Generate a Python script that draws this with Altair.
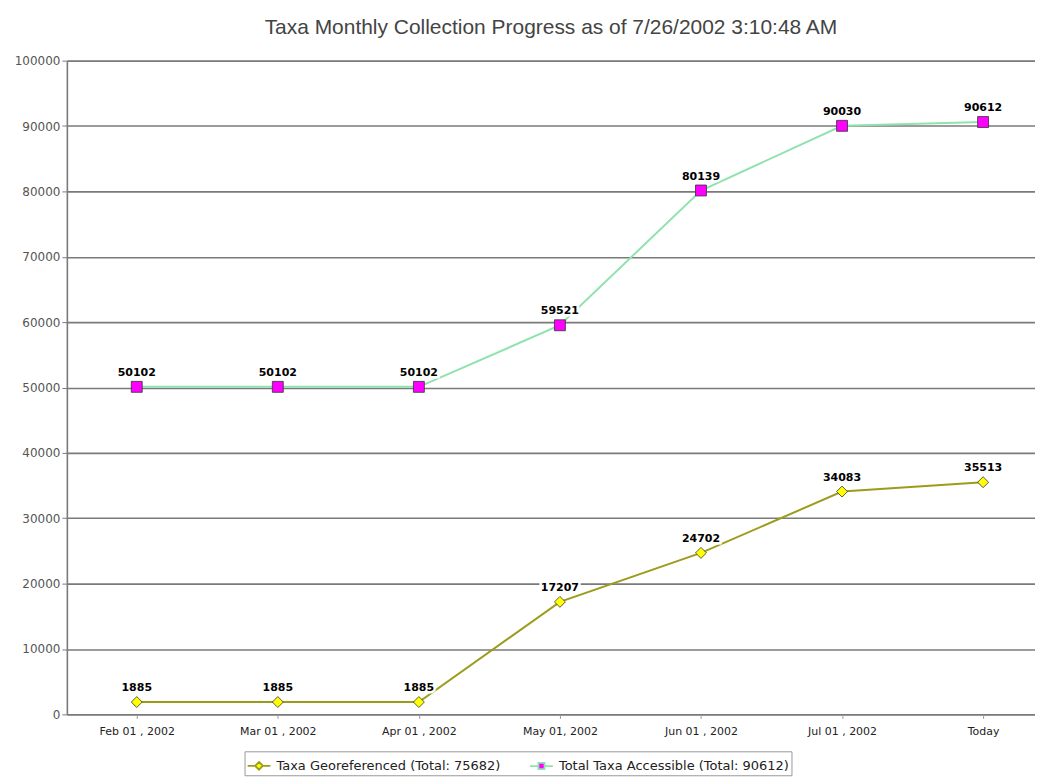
import altair as alt
import pandas as pd

categories = ["Feb 01 , 2002", "Mar 01 , 2002", "Apr 01 , 2002", "May 01, 2002",
              "Jun 01 , 2002", "Jul 01 , 2002", "Today"]
georef = [1885, 1885, 1885, 17207, 24702, 34083, 35513]
accessible = [50102, 50102, 50102, 59521, 80139, 90030, 90612]
series_names = ["Taxa Georeferenced (Total: 75682)", "Total Taxa Accessible (Total: 90612)"]
y_ticks = [0, 10000, 20000, 30000, 40000, 50000, 60000, 70000, 80000, 90000, 100000]

rows = []
for i, c in enumerate(categories):
    rows.append({"idx": i, "cat": c, "series": series_names[0], "line": series_names[0],
                 "leg": series_names[0], "value": georef[i]})
    rows.append({"idx": i, "cat": c, "series": series_names[1], "line": series_names[1],
                 "leg": series_names[1], "value": accessible[i]})
df = pd.DataFrame(rows)

FONT = "DejaVu Sans"
TITLE_FONT = "Liberation Sans"
label_expr = "[" + ",".join("'%s'" % c for c in categories) + "][datum.value]"
LINE_COLORS = ["#9c9c1c", "#8fe3ad"]
MARK_COLORS = ["#ffff00", "#ff00ff"]
# legend symbols: a short line with the marker in the middle
SYM_DIAMOND = "M-1,0L-0.34,0M0.34,0L1,0M0,-0.34L0.34,0L0,0.34L-0.34,0Z"
SYM_SQUARE = "M-1,0L-0.27,0M0.27,0L1,0M-0.27,-0.27L0.27,-0.27L0.27,0.27L-0.27,0.27Z"

x_enc = alt.X("idx:Q",
              scale=alt.Scale(domain=[-0.4953, 6.368], nice=False, zero=False),
              axis=alt.Axis(title=None, values=list(range(len(categories))), labelExpr=label_expr,
                            labelAngle=0, labelFontSize=11, labelColor="#222",
                            labelFont=FONT, domain=False, ticks=True, tickColor="#999",
                            tickSize=4, labelPadding=7, grid=False, labelFlush=False))
y_enc = alt.Y("value:Q", scale=alt.Scale(domain=[0, 100000], nice=False),
              axis=alt.Axis(title=None, values=y_ticks, format="d", labelFontSize=12,
                            labelColor="#555555", labelFont=FONT, grid=True, gridColor="#7a7a7a",
                            gridWidth=1.6, domain=True, domainColor="#7a7a7a", domainWidth=1.6,
                            ticks=True, tickColor="#7a7a7a", tickSize=5, labelPadding=2))

base = alt.Chart(df)

lines = base.mark_line(strokeWidth=2).encode(
    x=x_enc, y=y_enc,
    stroke=alt.Stroke("line:N", scale=alt.Scale(domain=series_names, range=LINE_COLORS), legend=None),
)

points = base.mark_point(filled=True, size=120, stroke="#333", strokeWidth=0.8, opacity=1).encode(
    x=x_enc, y=y_enc,
    color=alt.Color("series:N", scale=alt.Scale(domain=series_names, range=MARK_COLORS), legend=None),
    shape=alt.Shape("series:N", scale=alt.Scale(domain=series_names, range=["diamond", "square"]),
                    legend=None),
)

legend = alt.Legend(title=None, orient="none", legendX=178, legendY=692,
                    direction="horizontal", labelFont=FONT,
                    labelFontSize=13, labelColor="#222",
                    symbolStrokeWidth=1.8, symbolSize=520, columnPadding=25,
                    labelLimit=320, strokeColor="#999", padding=2,
                    fillColor="white", labelOffset=5)

legend_layer = base.transform_filter("datum.idx < 0").mark_point(
    filled=True, opacity=1, strokeWidth=1.8).encode(
    x=x_enc, y=y_enc,
    color=alt.Color("leg:N", scale=alt.Scale(domain=series_names, range=MARK_COLORS), legend=legend),
    stroke=alt.Stroke("leg:N", scale=alt.Scale(domain=series_names, range=LINE_COLORS), legend=legend),
    shape=alt.Shape("leg:N", scale=alt.Scale(domain=series_names, range=[SYM_DIAMOND, SYM_SQUARE]),
                    legend=legend),
)

halo = base.mark_text(dy=-14, fontSize=11, fontWeight="bold", font=FONT,
                      stroke="white", strokeWidth=5, color="white").encode(
    x=x_enc, y=y_enc, text="value:Q")
labels = base.mark_text(dy=-14, fontSize=11, fontWeight="bold", font=FONT, color="#000").encode(
    x=x_enc, y=y_enc, text="value:Q")

chart = alt.layer(lines, halo, labels, points, legend_layer).properties(
    width=970, height=655,
    title=alt.TitleParams("Taxa Monthly Collection Progress as of 7/26/2002 3:10:48 AM",
                          font=TITLE_FONT, fontSize=21, fontWeight="normal", color="#444",
                          anchor="middle", offset=17),
    autosize=alt.AutoSizeParams(type="none"),
    padding={"left": 59, "top": 52, "right": 0, "bottom": 65},
).resolve_scale(color="independent", stroke="independent", shape="independent"
).resolve_legend(color="independent", stroke="independent", shape="independent"
).configure_view(stroke=None).configure(background="white")

chart.save("out.html", embed_options={"renderer": "svg", "actions": False})
